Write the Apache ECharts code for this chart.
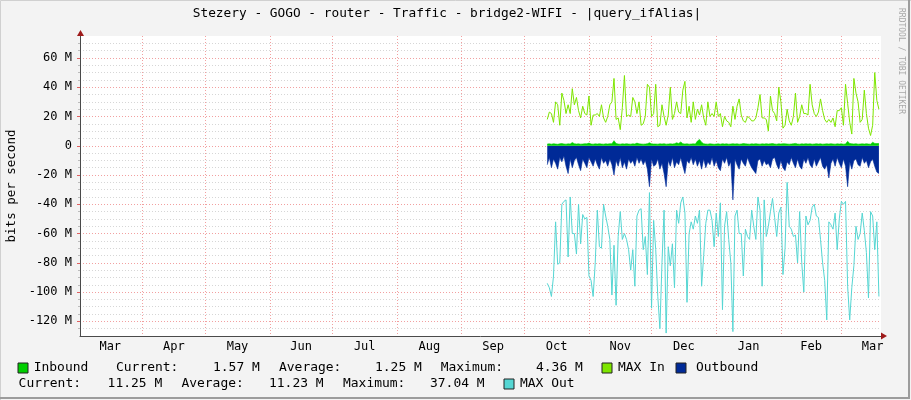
<!DOCTYPE html>
<html><head><meta charset="utf-8">
<script src="https://cdn.jsdelivr.net/npm/echarts@6/dist/echarts.min.js"></script>
<style>html,body{margin:0;padding:0;background:#F3F3F3}#c{width:911px;height:400px}</style>
</head><body><div id="c"></div>
<script>
// ---------- data ----------
const monthNames = ['Mar','Apr','May','Jun','Jul','Aug','Sep','Oct','Nov','Dec','Jan','Feb','Mar'];
const monthMidDays = [14.5,45,75.5,106,136.5,167.5,198,228.5,259,289.5,320.5,350.5,380];
const monthStartDays = [30,60,91,121,152,183,213,244,274,305,336,365];
const yMajorTicks = [-120,-100,-80,-60,-40,-20,0,20,40,60];
const yMinorTicks = [-125,-115,-110,-105,-95,-90,-85,-75,-70,-65,-55,-50,-45,-35,-30,-25,-15,-10,-5,5,10,15,25,30,35,45,50,55,65,70];
const startDay = 224; // first sample, days after graph start; one sample per day

const inbound = [
 1.2,1.3,1.1,1.4,1.2,1.0,1.3,1.5,1.2,1.1, 1.3,1.2,2.2,1.4,1.2,1.3,1.1,1.2,1.4,1.3,
 1.8,1.2,1.1,1.3,1.2,1.4,1.2,1.1,1.3,1.2, 1.4,1.3,3.5,1.5,1.2,1.1,1.3,1.2,1.4,1.2,
 1.1,1.3,1.2,1.8,1.3,1.2,1.1,1.2,1.4,2.0, 1.3,1.2,
 1.2,1.1,1.3,1.2,1.4,1.1,1.2,1.3,1.2,1.4, 2.0,1.6,2.6,1.4,1.2,1.3,1.1,1.2,1.3,1.2,
 3.2,4.36,2.4,1.3,1.2,1.1,1.3,1.2,1.0,1.2, 1.3,1.1,1.4,1.2,1.3,1.1,1.2,1.4,1.2,1.3,
 1.1,1.2,1.5,1.3,1.2,1.1,1.3,1.2,1.4,1.2, 1.1,1.3,1.2,1.4,
 1.2,1.3,1.5,1.2,1.1,1.3,1.2,1.4,1.3,1.2, 1.1,1.2,1.4,1.6,1.2,1.1,1.3,1.2,1.4,1.2,
 1.3,1.1,1.2,1.4,1.2,1.3,1.1,1.2,1.3,1.2, 1.4,1.2,1.1,1.3,1.2,1.3,1.1,1.2,3.0,1.6,
 1.3,1.2,1.4,1.1,1.2,1.3,1.2,1.4,1.2,1.1, 2.4,1.6,1.5,1.57
];
const maxIn = [
 18,23,22,16,30,28,14,36,31,22, 28,22,39,28,33,24,19,27,22,21,
 34,14,21,21,22,20,28,19,16,20, 28,30,46,18,19,11,26,48,20,21,
 20,33,30,22,30,14,15,20,42,40, 20,22,
 42,13,14,28,20,14,21,40,18,22, 30,23,22,38,44,19,27,16,30,18,
 25,21,28,19,14,30,20,22,20,30, 20,22,13,20,17,16,13,27,18,27,
 32,21,17,16,20,19,17,17,19,26, 35,19,19,18,
 10,34,24,22,17,40,30,12,14,25, 17,14,20,36,16,20,28,22,22,21,
 42,28,22,20,23,32,24,18,16,18, 16,19,13,24,24,26,14,42,29,16,
 8,46,36,30,16,18,38,22,12,7, 14,50,31,25
];
const outbound = [
 -13,-8,-15,-9,-12,-16,-8,-11,-7,-14, -19,-9,-15,-10,-8,-13,-17,-9,-12,-15,
 -8,-11,-14,-9,-13,-16,-8,-12,-10,-14, -9,-13,-20,-10,-14,-8,-15,-11,-16,-9,
 -12,-10,-14,-8,-12,-9,-13,-10,-16,-28, -9,-14,
 -13,-9,-16,-12,-19,-28,-10,-14,-8,-15, -11,-13,-8,-14,-19,-10,-12,-8,-13,-9,
 -14,-10,-16,-9,-15,-11,-13,-8,-14,-10, -15,-17,-9,-12,-8,-14,-11,-37,-9,-13,
 -16,-9,-12,-14,-8,-12,-15,-17,-19,-10, -9,-14,-10,-13,
 -12,-15,-9,-8,-13,-16,-10,-15,-17,-11, -13,-8,-12,-15,-9,-14,-16,-9,-12,-8,
 -13,-15,-9,-14,-11,-8,-14,-16,-13,-22, -12,-9,-14,-8,-12,-15,-9,-14,-28,-11,
 -16,-10,-9,-13,-14,-8,-12,-10,-15,-11, -9,-14,-18,-19
];
const maxOut = [
 -94,-97,-103,-89,-52,-81,-80,-40,-38,-37, -76,-35,-60,-60,-74,-40,-67,-47,-50,-49,
 -89,-92,-103,-80,-44,-69,-70,-40,-48,-55, -64,-102,-68,-109,-62,-45,-64,-60,-64,-71,
 -85,-71,-96,-48,-44,-43,-71,-62,-88,-32, -111,-51,
 -71,-103,-125,-80,-44,-128,-69,-82,-67,-97, -44,-53,-39,-35,-46,-107,-60,-52,-57,-48,
 -53,-44,-96,-75,-53,-44,-44,-51,-69,-46, -62,-39,-112,-55,-45,-64,-80,-127,-48,-44,
 -60,-60,-89,-57,-62,-64,-44,-55,-64,-35, -44,-96,-37,-62,
 -55,-45,-36,-49,-62,-46,-42,-88,-70,-25, -55,-57,-62,-61,-80,-45,-80,-100,-48,-54,
 -51,-42,-40,-48,-49,-64,-80,-92,-119,-52, -54,-57,-46,-71,-50,-38,-40,-38,-96,-119,
 -97,-82,-55,-64,-60,-46,-58,-73,-104,-45, -48,-71,-52,-103
];
const inboundStats = [1.57, 1.25, 4.36];   // current, average, maximum (M)
const outboundStats = [11.25, 11.23, 37.04];

// ---------- chart ----------
const FONT = 'DejaVu Sans Mono';
const G = {left: 80, right: 30, top: 36, bottom: 64};
const W = 911, H = 400;
const COLORS = {inbound:'#00CF00', maxIn:'#7EE600', outbound:'#002A97', maxOut:'#55D6D3'};
const toPts = arr => arr.map((v, i) => [startDay + i, v]);

const chart = echarts.init(document.getElementById('c'));

const SX = 1.127, LF = '11.5px "' + FONT + '"';
function txt(x, y, s) {
  return {type:'text', x:x, y:y, scaleX:SX, style:{text:s, font:LF, fill:'#000', textAlign:'left', textVerticalAlign:'middle'}, z:10};
}
function box(x, y, c) {
  return {type:'rect', shape:{x:x, y:y-5, width:10, height:10}, style:{fill:c, stroke:'#222', lineWidth:1}, z:10};
}
const f = v => v.toFixed(2) + ' M';
const r1 = 368, r2 = 384;
const legendEls = [
  box(18, r1, COLORS.inbound), txt(33.7, r1, 'Inbound'),
  txt(116, r1, 'Current:'), txt(213, r1, f(inboundStats[0])),
  txt(279, r1, 'Average:'), txt(375, r1, f(inboundStats[1])),
  txt(440.7, r1, 'Maximum:'), txt(536, r1, f(inboundStats[2])),
  box(602, r1, COLORS.maxIn), txt(618, r1, 'MAX In'),
  box(676, r1, COLORS.outbound), txt(696, r1, 'Outbound'),
  txt(18.6, r2, 'Current:'), txt(107.6, r2, f(outboundStats[0])),
  txt(181.4, r2, 'Average:'), txt(269, r2, f(outboundStats[1])),
  txt(343, r2, 'Maximum:'), txt(430, r2, f(outboundStats[2])),
  box(504, r2, COLORS.maxOut), txt(520, r2, 'MAX Out')
];

const plotR = W - G.right, plotB = H - G.bottom;
const decor = [
  {type:'text', x:447, y:14, style:{text:'Stezery - GOGO - router - Traffic - bridge2-WIFI - |query_ifAlias|', font:'12.8px "' + FONT + '"', fill:'#000', textAlign:'center', textVerticalAlign:'middle'}, z:10},
  {type:'text', x:901, y:8, rotation:-Math.PI/2, style:{text:'RRDTOOL / TOBI OETIKER', font:'8px "' + FONT + '"', fill:'#A8A8A8', textAlign:'left', textVerticalAlign:'middle'}, z:10},
  {type:'polygon', shape:{points:[[G.left-3, G.top], [G.left+4, G.top], [G.left+0.5, G.top-6]]}, style:{fill:'#9E1A1A'}, z:20},
  {type:'polygon', shape:{points:[[plotR, plotB-3.5], [plotR, plotB+3.5], [plotR+6, plotB]]}, style:{fill:'#9E1A1A'}, z:20},
  {type:'polyline', shape:{points:[[0.5, H], [0.5, 0.5], [W, 0.5]]}, style:{stroke:'#D0D0D0', lineWidth:1, fill:null}, z:5},
  {type:'polyline', shape:{points:[[W-2, 0], [W-2, H-2], [0, H-2]]}, style:{stroke:'#9C9C9C', lineWidth:2, fill:null}, z:5}
];

const axisLabelStyle = {fontFamily: FONT, fontSize: 12, color: '#000'};

chart.setOption({
  backgroundColor: '#F3F3F3',
  animation: false,
  grid: {left: G.left, right: G.right, top: G.top, bottom: G.bottom, containLabel: false, outerBoundsMode: 'none',
         show: true, backgroundColor: '#FFFFFF', borderWidth: 0},
  xAxis: {
    type: 'value', min: 0, max: 384,
    axisLine: {show: true, onZero: false, lineStyle: {color: '#4A4A4A', width: 1}},
    axisTick: {show: false, customValues: monthStartDays},
    splitLine: {show: true, lineStyle: {color: '#F2A0A0', type: [1, 2], width: 1}},
    axisLabel: Object.assign({
      customValues: monthMidDays, margin: 5,
      formatter: v => { const i = monthMidDays.findIndex(d => Math.abs(d - v) < 0.01); return i >= 0 ? monthNames[i] : ''; }
    }, axisLabelStyle)
  },
  yAxis: [
    {
      type: 'value', min: -130, max: 75, position: 'left',
      axisLine: {show: false, onZero: false},
      axisTick: {show: true, length: 2, customValues: yMinorTicks, lineStyle: {color: '#BBBBBB'}},
      axisLabel: {show: false},
      splitLine: {show: true, lineStyle: {color: '#D6D6D6', type: [1, 2], width: 1}}
    },
    {
      type: 'value', min: -130, max: 75, position: 'left',
      axisLine: {show: true, onZero: false, lineStyle: {color: '#4A4A4A', width: 1}},
      axisTick: {show: true, length: 3, customValues: yMajorTicks, lineStyle: {color: '#E06060'}},
      axisLabel: Object.assign({customValues: yMajorTicks, margin: 8, formatter: v => v === 0 ? '0' : v + ' M'}, axisLabelStyle),
      splitLine: {show: true, lineStyle: {color: '#F2A0A0', type: [1, 2], width: 1}},
      name: 'bits per second', nameLocation: 'middle', nameRotate: 90, nameGap: 62,
      nameTextStyle: {fontFamily: FONT, fontSize: 12.5, color: '#000'}
    }
  ],
  series: [
    {name:'Outbound', type:'line', yAxisIndex:1, data: toPts(outbound), showSymbol:false, symbol:'none',
     color: COLORS.outbound, lineStyle:{width:0.6, color: COLORS.outbound}, areaStyle:{color: COLORS.outbound, opacity:1}, z:2},
    {name:'Inbound', type:'line', yAxisIndex:1, data: toPts(inbound), showSymbol:false, symbol:'none',
     color: COLORS.inbound, lineStyle:{width:0.6, color: COLORS.inbound}, areaStyle:{color: COLORS.inbound, opacity:1}, z:3},
    {name:'MAX In', type:'line', yAxisIndex:1, data: toPts(maxIn), showSymbol:false, symbol:'none',
     color: COLORS.maxIn, lineStyle:{width:1, color: COLORS.maxIn}, z:4},
    {name:'MAX Out', type:'line', yAxisIndex:1, data: toPts(maxOut), showSymbol:false, symbol:'none',
     color: COLORS.maxOut, lineStyle:{width:1, color: COLORS.maxOut}, z:4}
  ],
  graphic: {elements: decor.concat(legendEls)}
});
</script>
</body></html>
